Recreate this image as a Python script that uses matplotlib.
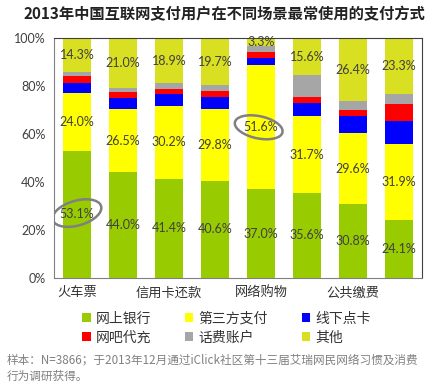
import numpy as np
import matplotlib
matplotlib.use('Agg')
import matplotlib.pyplot as plt
from matplotlib.patches import Ellipse, Patch

plt.rcParams['font.family'] = ['Noto Sans CJK SC', 'DejaVu Sans']

categories = ['火车票', '', '信用卡还款', '', '网络购物', '', '公共缴费', '']
series_names = ['网上银行', '第三方支付', '线下点卡', '网吧代充', '话费账户', '其他']
bank = [53.1, 44.0, 41.4, 40.6, 37.0, 35.6, 30.8, 24.1]
third = [24.0, 26.5, 30.2, 29.8, 51.6, 31.7, 29.6, 31.9]
card = [4.2, 4.6, 5.2, 5.1, 3.2, 5.6, 7.2, 9.6]
netbar = [2.9, 2.5, 2.0, 2.4, 2.5, 2.6, 2.4, 7.0]
phone = [1.5, 1.4, 2.3, 2.4, 2.4, 8.9, 3.6, 4.1]
other = [14.3, 21.0, 18.9, 19.7, 3.3, 15.6, 26.4, 23.3]
colors = ['#99CC00', '#FFFF00', '#0000FF', '#FF0000', '#A6A6A6', '#D9E021']

data = [bank, third, card, netbar, phone, other]
x = np.arange(len(bank))

fig = plt.figure(figsize=(4.4, 3.86), dpi=100)
ax = fig.add_axes([54/440, 1-278/386, 368/440, 240/386])

bottom = np.zeros(len(bank))
for i, vals in enumerate(data):
    vals = np.array(vals)
    ax.bar(x, vals, bottom=bottom, width=0.63, color=colors[i], linewidth=0)
    if series_names[i] in ('网上银行', '第三方支付', '其他'):
        for xi, b, v in zip(x, bottom, vals):
            ax.text(xi, b + v / 2, f'{v:.1f}%', ha='center', va='center',
                    fontsize=9, color='#404040', family=['Lato', 'DejaVu Sans'])
    bottom += vals

# highlight circles
ax.add_patch(Ellipse((0, bank[0] / 2 + 0.5), 0.98, 11.5, angle=-2, fill=False,
                     edgecolor='#808080', linewidth=1.8, zorder=5))
ax.add_patch(Ellipse((4 - 0.05, bank[4] + third[4] / 2), 0.98, 10, angle=2, fill=False,
                     edgecolor='#808080', linewidth=1.8, zorder=5))

ax.set_xlim(-0.5, 7.5)
ax.set_ylim(0, 100)
ax.set_yticks(np.arange(0, 101, 20))
ax.set_yticklabels([f'{v}%' for v in range(0, 101, 20)], family=['Lato', 'DejaVu Sans'],
                   fontsize=9, color='#404040')
ax.set_xticks(x)
ax.set_xticklabels(categories, fontsize=9.5, color='#333333')
ax.tick_params(length=0, pad=6)
for s in ['left', 'bottom']:
    ax.spines[s].set_color('#808080')
for s in ['top', 'right']:
    ax.spines[s].set_color('#404040')

fig.text(0.51, 1 - 14/386, '2013年中国互联网支付用户在不同场景最常使用的支付方式',
         ha='center', va='center', fontsize=11, fontweight='bold', color='#222222')

# legend fills column by column, so reorder to get rows like the original
order = [0, 3, 1, 4, 2, 5]
handles = [Patch(facecolor=colors[k], edgecolor='none') for k in order]
labels = [series_names[k] for k in order]
leg = fig.legend(handles, labels, loc='center', ncol=3, frameon=False,
                 bbox_to_anchor=(0.515, 1 - 328/386), fontsize=10, handlelength=0.6,
                 handleheight=0.6, handletextpad=0.4, columnspacing=2.4,
                 labelspacing=0.35)
for t in leg.get_texts():
    t.set_color('#333333')

fig.text(7/440, 1 - 360/386, '样本：N=3866；于2013年12月通过iClick社区第十三届艾瑞网民网络习惯及消费',
         ha='left', va='center', fontsize=8.4, color='#808080')
fig.text(7/440, 1 - 376/386, '行为调研获得。', ha='left', va='center', fontsize=8.4,
         color='#808080')

fig.savefig('out.png', dpi=100)
